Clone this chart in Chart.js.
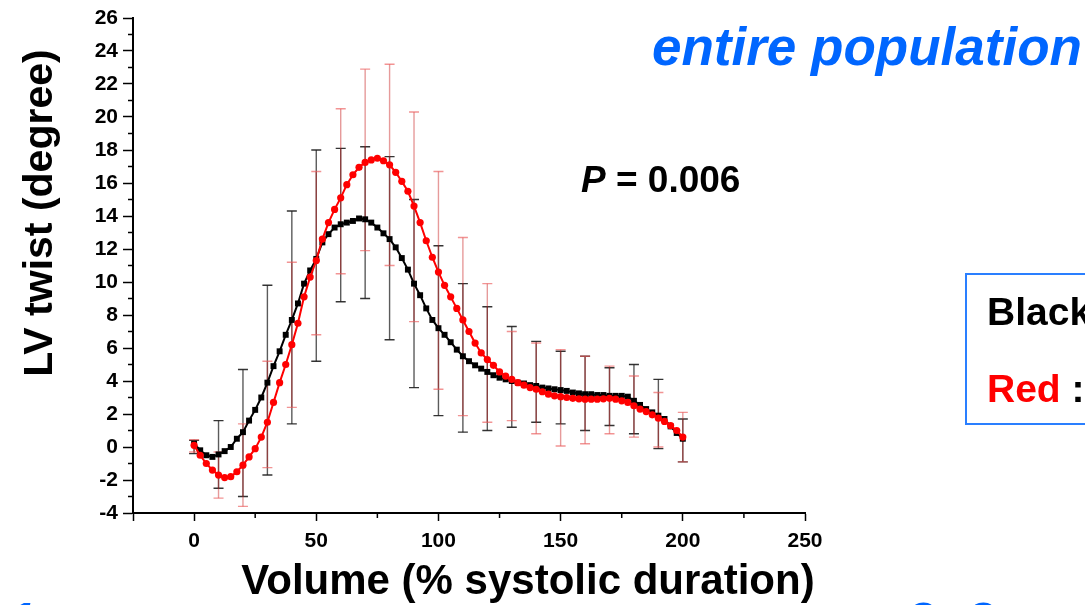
<!DOCTYPE html>
<html>
<head>
<meta charset="utf-8">
<script src="https://cdn.jsdelivr.net/npm/chart.js@4.4.1/dist/chart.umd.min.js"></script>
<style>
  html, body { margin: 0; padding: 0; background: #fff; }
  body { width: 1085px; height: 605px; overflow: hidden; position: relative; font-family: "Liberation Sans", Arial, sans-serif; }
  #wrap { position: absolute; left: 0; top: 0; width: 1085px; height: 605px; }
  .txt { position: absolute; white-space: nowrap; font-weight: bold; line-height: 1; }
  #pval { left: 581px; top: 161px; font-size: 37px; color: #000; }
  #title { left: 652px; top: 20px; font-size: 53px; font-style: italic; color: #0066ff; }
  #keybox { position: absolute; left: 965px; top: 273px; width: 300px; height: 148px; border: 2px solid #2a7fff; }
  #k1 { left: 987px; top: 292px; font-size: 39px; color: #000; }
  #k2 { left: 987px; top: 369px; font-size: 39px; color: #000; }
  #k2 span { color: #ff0000; }
  .frag { font-size: 49px; font-style: italic; color: #0066ff; top: 595px; }
</style>
</head>
<body>
<div id="wrap"><canvas id="twistChart" width="1085" height="605"></canvas></div>
<div class="txt" id="title">entire population</div>
<div class="txt" id="pval"><i>P</i> = 0.006</div>
<div id="keybox"></div>
<div class="txt" id="k1">Black</div>
<div class="txt" id="k2"><span>Red</span> :</div>
<div class="txt frag" style="left:8px">1</div>
<div class="txt frag" style="left:907px">2</div>
<div class="txt frag" style="left:967px">3</div>
<script>
// % systolic duration (x)
const volumePct = [0, 2.5, 5, 7.5, 10, 12.5, 15, 17.5, 20, 22.5, 25, 27.5, 30, 32.5, 35, 37.5,
  40, 42.5, 45, 47.5, 50, 52.5, 55, 57.5, 60, 62.5, 65, 67.5, 70, 72.5, 75, 77.5,
  80, 82.5, 85, 87.5, 90, 92.5, 95, 97.5, 100, 102.5, 105, 107.5, 110, 112.5, 115, 117.5,
  120, 122.5, 125, 127.5, 130, 132.5, 135, 137.5, 140, 142.5, 145, 147.5, 150, 152.5, 155, 157.5,
  160, 162.5, 165, 167.5, 170, 172.5, 175, 177.5, 180, 182.5, 185, 187.5, 190, 192.5, 195, 197.5, 200];

// LV twist, black group (squares)
const blackTwist = [0.2, -0.2, -0.5, -0.6, -0.45, -0.25, 0.0, 0.5, 0.9, 1.6, 2.25, 3.0, 3.9, 4.9, 5.8, 6.8,
  7.7, 8.7, 9.9, 10.7, 11.4, 12.4, 12.9, 13.3, 13.5, 13.6, 13.7, 13.85, 13.8, 13.6, 13.3, 12.95,
  12.6, 12.1, 11.45, 10.75, 9.9, 9.2, 8.4, 7.7, 7.2, 6.8, 6.35, 5.9, 5.5, 5.2, 4.95, 4.75,
  4.55, 4.35, 4.2, 4.1, 4.0, 3.9, 3.85, 3.75, 3.7, 3.6, 3.55, 3.5, 3.45, 3.4, 3.3, 3.25,
  3.2, 3.2, 3.15, 3.15, 3.1, 3.1, 3.1, 3.05, 2.8, 2.55, 2.3, 2.1, 1.9, 1.7, 1.25, 0.85, 0.5];

// LV twist, red group (circles)
const redTwist = [0.1, -0.5, -1.0, -1.4, -1.7, -1.85, -1.8, -1.5, -1.1, -0.6, -0.1, 0.6, 1.5, 2.7, 3.9, 5.0,
  6.2, 7.5, 9.1, 10.3, 11.3, 12.6, 13.6, 14.4, 15.1, 15.9, 16.5, 16.95, 17.25, 17.4, 17.5, 17.35,
  17.1, 16.65, 16.1, 15.5, 14.6, 13.6, 12.5, 11.5, 10.6, 9.8, 9.1, 8.4, 7.7, 7.0, 6.3, 5.7,
  5.3, 4.95, 4.55, 4.3, 4.1, 3.9, 3.75, 3.6, 3.5, 3.35, 3.2, 3.1, 3.05, 3.0, 2.95, 2.92,
  2.9, 2.9, 2.9, 2.92, 2.95, 2.9, 2.8, 2.7, 2.5, 2.3, 2.15, 1.95, 1.75, 1.55, 1.3, 1.0, 0.6];

// error bars (every 10%)
const barPct  = [0, 10, 20, 30, 40, 50, 60, 70, 80, 90, 100, 110, 120, 130, 140, 150, 160, 170, 180, 190, 200];
const blackHi = [0.4, 1.6, 4.7, 9.8, 14.3, 18.0, 18.1, 18.2, 17.6, 15.0, 12.2, 9.9, 8.5, 7.3, 6.4, 5.8, 5.5, 4.8, 5.0, 4.1, 1.7];
const blackLo = [-0.4, -2.5, -3.0, -1.7, 1.4, 5.2, 8.8, 9.0, 6.5, 3.6, 1.9, 0.9, 1.0, 1.2, 1.5, 1.4, 1.0, 1.3, 0.8, -0.1, -0.9];
const redHi   = [0.45, -0.3, 1.4, 5.2, 11.2, 16.7, 20.5, 22.9, 23.2, 20.3, 16.7, 12.7, 9.9, 7.0, 6.3, 5.9, 5.5, 4.9, 4.3, 3.3, 2.1];
const redLo   = [-0.3, -3.1, -3.6, -1.25, 2.4, 6.8, 10.5, 11.9, 11.0, 7.6, 3.5, 1.9, 1.5, 1.6, 0.8, 0.06, 0.2, 0.8, 0.6, 0.0, -0.9];

// axis ticks
const xTickVals = [-25, 0, 50, 100, 150, 200, 250];
const xMinorVals = [25, 75, 125, 175, 225];
const yTickVals = [-4, -2, 0, 2, 4, 6, 8, 10, 12, 14, 16, 18, 20, 22, 24, 26];
const yMinorVals = [-3, -1, 1, 3, 5, 7, 9, 11, 13, 15, 17, 19, 21, 23, 25];

const FONT = '"Liberation Sans", Arial, sans-serif';

const toPoints = vals => vals.map((v, i) => ({ x: volumePct[i], y: v }));

// error bars, minor ticks and axis titles
const extras = {
  id: 'extras',
  beforeDatasetsDraw(chart) {
    const { ctx, scales: { x, y } } = chart;
    const drawBars = (hi, lo, lineCol, capCol) => {
      ctx.lineWidth = 1.4;
      barPct.forEach((p, i) => {
        const px = x.getPixelForValue(p);
        const top = y.getPixelForValue(hi[i]);
        const bot = y.getPixelForValue(lo[i]);
        ctx.strokeStyle = lineCol;
        ctx.beginPath();
        ctx.moveTo(px, top);
        ctx.lineTo(px, bot);
        ctx.stroke();
        ctx.strokeStyle = capCol;
        ctx.beginPath();
        ctx.moveTo(px - 5, top); ctx.lineTo(px + 5, top);
        ctx.moveTo(px - 5, bot); ctx.lineTo(px + 5, bot);
        ctx.stroke();
      });
    };
    ctx.save();
    drawBars(blackHi, blackLo, 'rgba(50,50,50,0.8)', 'rgba(30,30,30,0.9)');
    drawBars(redHi, redLo, 'rgba(200,30,30,0.45)', 'rgba(235,90,90,0.65)');
    ctx.restore();
  },
  afterDraw(chart) {
    const { ctx, chartArea, scales: { x, y } } = chart;
    ctx.save();
    ctx.strokeStyle = '#000';
    ctx.lineWidth = 1.5;
    ctx.beginPath();
    yMinorVals.forEach(v => {
      const py = y.getPixelForValue(v);
      ctx.moveTo(chartArea.left - 5, py);
      ctx.lineTo(chartArea.left, py);
    });
    xMinorVals.forEach(v => {
      const px = x.getPixelForValue(v);
      ctx.moveTo(px, chartArea.bottom);
      ctx.lineTo(px, chartArea.bottom + 5);
    });
    ctx.stroke();

    ctx.fillStyle = '#000';
    ctx.font = 'bold 42px ' + FONT;
    ctx.textAlign = 'center';
    ctx.textBaseline = 'alphabetic';
    ctx.fillText('Volume (% systolic duration)', 528, 594);

    ctx.translate(52, 213);
    ctx.rotate(-Math.PI / 2);
    ctx.font = 'bold 41px ' + FONT;
    ctx.fillText('LV twist (degree)', 0, 0);
    ctx.restore();
  }
};

new Chart(document.getElementById('twistChart'), {
  type: 'line',
  data: {
    datasets: [
      {
        label: 'Red',
        data: toPoints(redTwist),
        borderColor: '#ff0000',
        backgroundColor: '#ff0000',
        borderWidth: 2,
        pointStyle: 'circle',
        pointRadius: 3.6,
        pointBorderWidth: 0,
        tension: 0,
        order: 0
      },
      {
        label: 'Black',
        data: toPoints(blackTwist),
        borderColor: '#000',
        backgroundColor: '#000',
        borderWidth: 2,
        pointStyle: 'rect',
        pointRadius: 4.2,
        pointBorderWidth: 0,
        tension: 0,
        order: 1
      }
    ]
  },
  options: {
    responsive: false,
    animation: false,
    devicePixelRatio: 1,
    layout: { padding: { left: 0, right: 280, top: 18, bottom: 0 } },
    plugins: {
      legend: { display: false },
      tooltip: { enabled: false }
    },
    scales: {
      x: {
        type: 'linear',
        min: -25,
        max: 250,
        afterFit: s => { s.height = 92; },
        afterBuildTicks: s => { s.ticks = xTickVals.map(v => ({ value: v })); },
        border: { display: true, color: '#000', width: 2 },
        grid: { display: true, drawOnChartArea: false, drawTicks: true, tickLength: 8, tickColor: '#000', tickWidth: 1.5 },
        ticks: {
          color: '#000',
          padding: 8,
          maxRotation: 0,
          font: { family: FONT, size: 21, weight: 'bold' },
          callback: v => (v < 0 ? '' : v)
        }
      },
      y: {
        min: -4,
        max: 26,
        afterFit: s => { s.width = 133; },
        afterBuildTicks: s => { s.ticks = yTickVals.map(v => ({ value: v })); },
        border: { display: true, color: '#000', width: 2 },
        grid: { display: true, drawOnChartArea: false, drawTicks: true, tickLength: 10, tickColor: '#000', tickWidth: 1.5 },
        ticks: {
          color: '#000',
          padding: 5,
          font: { family: FONT, size: 21, weight: 'bold' }
        }
      }
    }
  },
  plugins: [extras]
});
</script>
</body>
</html>
